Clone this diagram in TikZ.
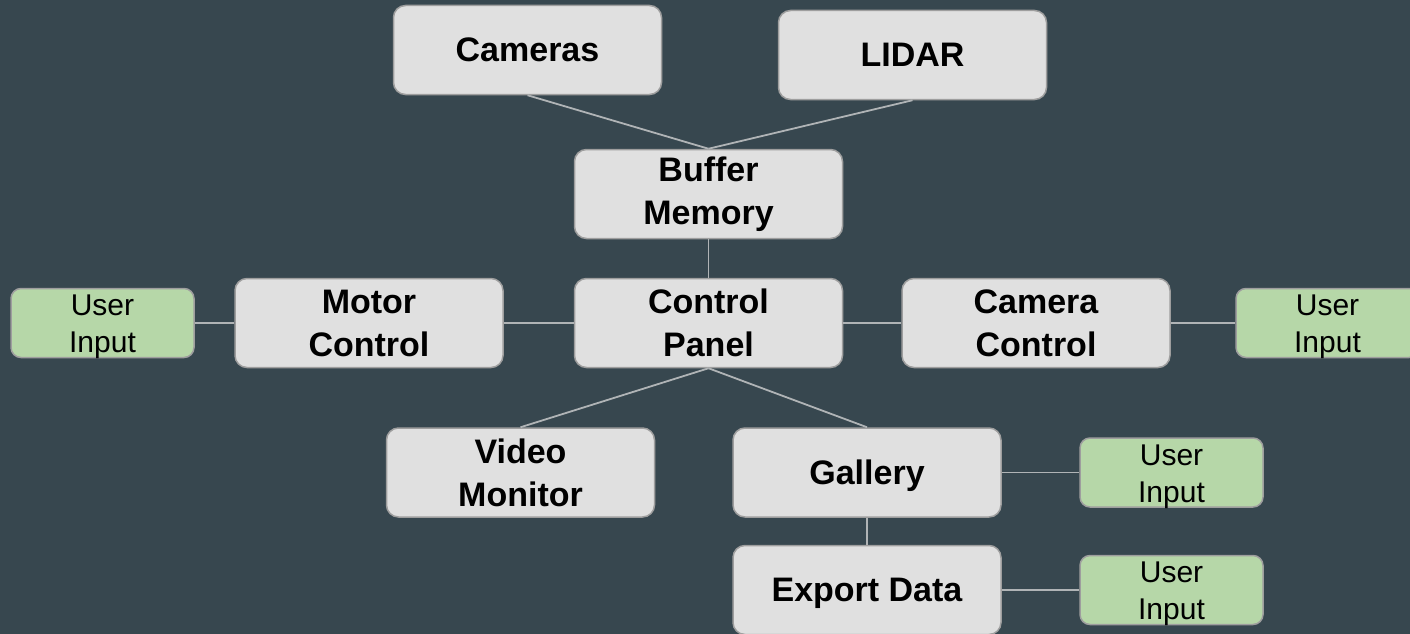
\documentclass[tikz,border=0pt]{standalone}
\usepackage{fontspec}
\setmainfont{Liberation Sans}
\definecolor{bg}{HTML}{37474F}
\definecolor{boxfill}{HTML}{E0E0E0}
\definecolor{boxedge}{HTML}{9E9E9E}
\definecolor{uifill}{HTML}{B6D7A8}
\definecolor{wire}{HTML}{B0B4B6}
\tikzset{
  block/.style={draw=boxedge, line width=1.5pt, fill=boxfill, rounded corners=12pt,
    minimum width=268pt, minimum height=89pt, inner sep=0pt, align=center,
    font=\fontsize{34}{43}\selectfont\bfseries},
  flat/.style={text depth=0pt},
  userin/.style={draw=boxedge, line width=1.5pt, fill=uifill, rounded corners=10pt,
    minimum width=183pt, minimum height=69pt, inner sep=0pt, align=center,
    font=\fontsize{30}{37}\selectfont},
  uitext/.style={yshift=-4pt},
  link/.style={draw=wire, line width=1.8pt}
}
\begin{document}
\begin{tikzpicture}[x=1pt,y=-1pt]
\fill[bg] (0,0) rectangle (1410,634);
\useasboundingbox (0,0) rectangle (1410,634);

% sensors and memory
\node[block] (cam)   at (527.5,50)  {Cameras};
\node[block] (lidar) at (912.5,55)  {LIDAR};
\node[block] (buf)   at (708.5,194) {Buffer\\Memory};

% control row
\node[block] (ctrl)   at (708.5,323)  {Control\\Panel};
\node[block] (motor)  at (369,323)    {Motor\\Control};
\node[block] (camctl) at (1036,323)   {Camera\\Control};
\node[userin] (uiL)   at (102.5,323)  {};
\node[userin] (uiR)   at (1327.5,323) {};

% outputs
\node[block] (video)  at (520.5,472.5) {Video\\Monitor};
\node[block, flat] (gal)    at (867,472.5) {Gallery};
\node[block, flat] (export) at (867,590)   {Export Data};
\node[userin] (uiG)   at (1171.5,472.5) {};
\node[userin] (uiE)   at (1171.5,590)   {};

% labels of the green input boxes, set a little low
\foreach \b in {uiL,uiR,uiG,uiE}
  \node[userin, draw=none, fill=none, uitext] (\b-label) at (\b) {User\\Input};

% connectors
\path[link] (cam.south) -- (buf.north);
\path[link] (lidar.south) -- (buf.north);
\path[link] (buf.south) -- (ctrl.north);
\path[link] (ctrl.west) -- (motor.east);
\path[link] (motor.west) -- (uiL.east);
\path[link] (ctrl.east) -- (camctl.west);
\path[link] (camctl.east) -- (uiR.west);
\path[link] (ctrl.south) -- (video.north);
\path[link] (ctrl.south) -- (gal.north);
\path[link] (gal.south) -- (export.north);
\path[link] (gal.east) -- (uiG.west);
\path[link] (export.east) -- (uiE.west);
\end{tikzpicture}
\end{document}
